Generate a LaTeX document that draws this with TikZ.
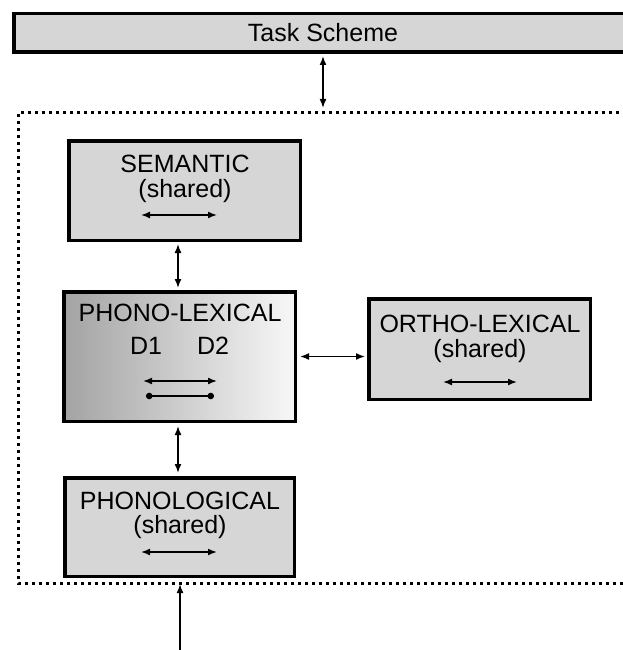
\documentclass[tikz,border=0pt]{standalone}
\usepackage{fontspec}
\setmainfont{Liberation Sans}
\usetikzlibrary{arrows.meta}
\begin{document}
\begin{tikzpicture}[x=1pt,y=-1pt,
  box/.style={draw=black,line width=3.5pt,fill=black!16,inner sep=0pt},
  lbl/.style={inner sep=0pt,font=\fontsize{25}{29}\selectfont},
  conn/.style={line width=1.6pt,{Latex[length=9pt,width=7pt]}-{Latex[length=9pt,width=7pt]}},
  oneway/.style={line width=1.6pt,-{Latex[length=9pt,width=7pt]}},
  inner/.style={line width=1.6pt,{Latex[length=9pt,width=7pt]}-{Latex[length=9pt,width=7pt]}},
  dotline/.style={line width=1.6pt,{Circle[length=6.5pt]}-{Circle[length=6.5pt]}},
  dotbox/.style={line width=3pt,dash pattern=on 3pt off 4pt}]
\useasboundingbox (0,0) rectangle (622,650);
\fill[white] (0,0) rectangle (622,650);

% Task scheme
\node[box,minimum width=624.5pt,minimum height=38.5pt] (task) at (326,33) {};
\node[lbl] (tasklbl) at (323,33) {Task Scheme};

% dotted region
\coordinate (dtop) at (323,113);
\draw[dotbox] (640,113) -- (18,113) -- (18,583) -- (640,583);

% Semantic
\node[box,minimum width=231.5pt,minimum height=99.5pt] (sem) at (184.5,190.5) {};
\node[lbl] (semA) at (185,164) {SEMANTIC};
\node[lbl] (semB) at (185,191) {(shared)};
\draw[inner] (141,215) -- (217,215);

% Phono-lexical
\node[draw=black,line width=3.5pt,inner sep=0pt,minimum width=231.5pt,minimum height=129.5pt,
      left color=black!36,middle color=black!20,right color=black!3] (phono) at (179.5,356.5) {};
\node[lbl] (phA) at (180,313) {PHONO-LEXICAL};
\node[lbl] (phD1) at (146,346) {D1};
\node[lbl] (phD2) at (213,346) {D2};
\draw[inner] (143,381) -- (217,381);
\draw[dotline] (146,396) -- (214,396);

% Ortho-lexical
\node[box,minimum width=221.5pt,minimum height=100.5pt] (ortho) at (479.5,349) {};
\node[lbl] (orA) at (480,324) {ORTHO-LEXICAL};
\node[lbl] (orB) at (480,351) {(shared)};
\draw[inner] (443,382) -- (517,382);

% Phonological
\node[box,minimum width=229.5pt,minimum height=98.5pt] (phonol) at (179.5,527) {};
\node[lbl] (plA) at (180,501) {PHONOLOGICAL};
\node[lbl] (plB) at (180,527) {(shared)};
\draw[inner] (141,552) -- (217,552);

% connectors
\draw[conn,shorten <=2pt,shorten >=5pt] (task.south -| dtop) -- (dtop);
\draw[conn,shorten <=2pt,shorten >=2pt] (phono.north -| 178,0) -- (sem.south -| 178,0);
\draw[conn,shorten <=3pt,shorten >=3pt] (phonol.north -| 178,0) -- (phono.south -| 178,0);
\draw[conn,shorten <=3pt,shorten >=2pt] (phono.east) -- (phono.east -| ortho.west);
\coordinate (inp) at (180,650);
\draw[oneway,shorten >=6pt] (inp) -- (phonol.south -| inp);
\end{tikzpicture}
\end{document}
